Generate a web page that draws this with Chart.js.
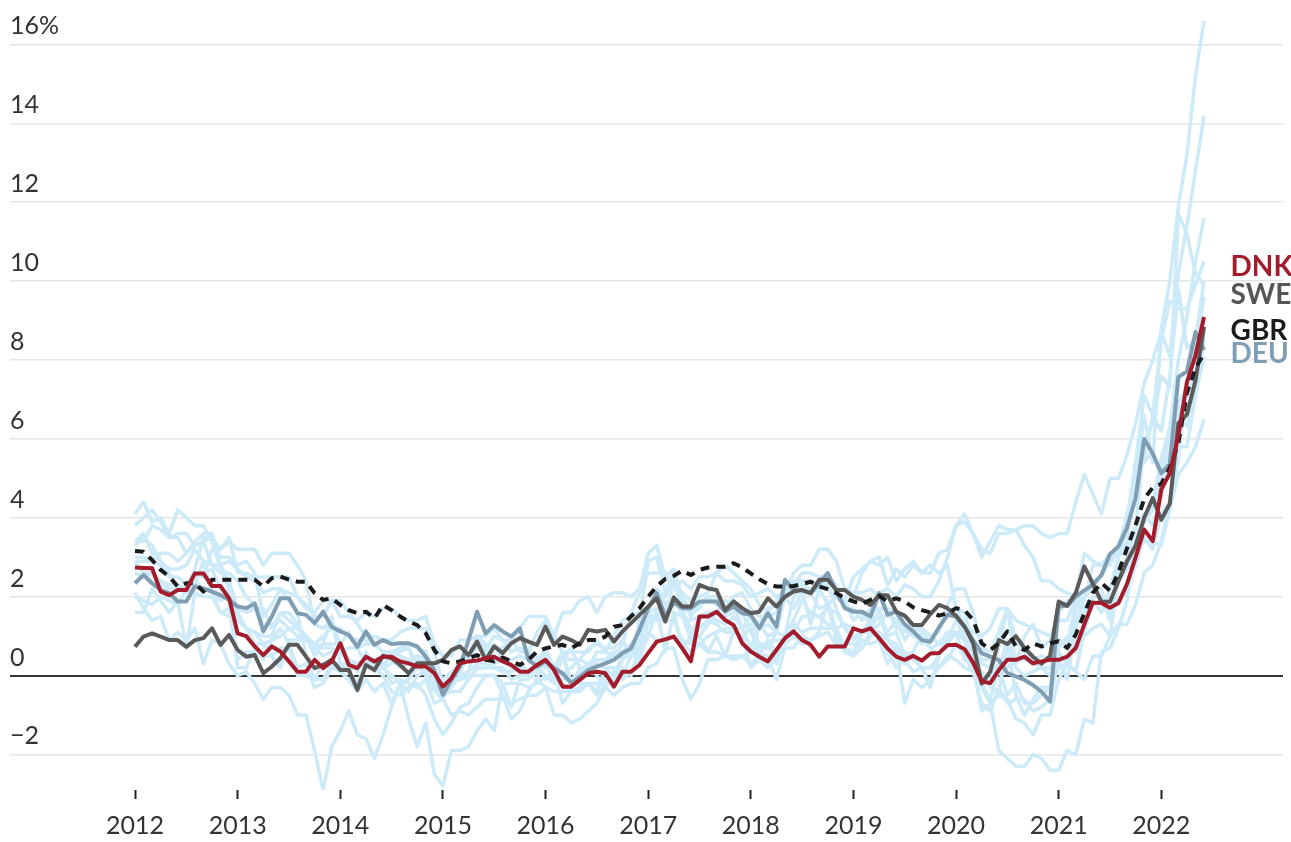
<!DOCTYPE html>
<html>
<head>
<meta charset="utf-8">
<script src="https://cdn.jsdelivr.net/npm/chart.js@4.4.1/dist/chart.umd.min.js"></script>
<style>
  html, body { margin: 0; padding: 0; background: #fff; }
  #contenedor { width: 1291px; height: 842px; position: relative; }
</style>
</head>
<body>
<div id="contenedor"><canvas id="grafico"></canvas></div>
<script>
// Inflación interanual mensual, ene 2012 - jun 2022
const anioInicio = 2012;
const ticksAnios = [2012, 2013, 2014, 2015, 2016, 2017, 2018, 2019, 2020, 2021, 2022];
const ticksY = [-2, 0, 2, 4, 6, 8, 10, 12, 14, 16];

const dnk = [
  2.74, 2.73, 2.72, 2.13, 2.04, 2.17, 2.17, 2.59, 2.59, 2.27, 2.27, 1.96,
  1.07, 1.0, 0.74, 0.52, 0.74, 0.61, 0.36, 0.1, 0.1, 0.4, 0.19, 0.36,
  0.82, 0.27, 0.19, 0.48, 0.36, 0.48, 0.48, 0.36, 0.31, 0.23, 0.23, 0.06,
  -0.28, -0.07, 0.31, 0.36, 0.38, 0.44, 0.48, 0.36, 0.27, 0.1, 0.1, 0.27,
  0.4, 0.14, -0.28, -0.28, -0.11, 0.06, 0.1, 0.06, -0.28, 0.1, 0.1, 0.27,
  0.57, 0.86, 0.92, 0.99, 0.69, 0.36, 1.5, 1.5, 1.62, 1.41, 1.28, 0.82,
  0.61, 0.48, 0.36, 0.65, 0.95, 1.12, 0.9, 0.78, 0.48, 0.74, 0.74, 0.74,
  1.2, 1.12, 1.2, 0.95, 0.69, 0.48, 0.4, 0.5, 0.38, 0.56, 0.57, 0.77,
  0.78, 0.67, 0.33, -0.15, -0.19, 0.14, 0.4, 0.4, 0.48, 0.31, 0.36, 0.4,
  0.4, 0.48, 0.7, 1.3, 1.85, 1.84, 1.72, 1.84, 2.33, 3.0, 3.7, 3.41,
  4.72, 5.13, 6.08, 7.44, 8.12, 9.09
];
const swe = [
  0.73, 0.99, 1.07, 0.99, 0.9, 0.9, 0.73, 0.9, 0.95, 1.2, 0.78, 1.03,
  0.65, 0.48, 0.52, 0.06, 0.23, 0.44, 0.78, 0.78, 0.48, 0.19, 0.27, 0.4,
  0.14, 0.14, -0.36, 0.27, 0.14, 0.5, 0.44, 0.27, 0.06, 0.31, 0.31, 0.31,
  0.4, 0.65, 0.74, 0.52, 0.86, 0.4, 0.74, 0.57, 0.82, 0.95, 0.86, 0.78,
  1.24, 0.78, 0.99, 0.9, 0.78, 1.16, 1.12, 1.16, 0.86, 1.12, 1.33, 1.54,
  1.75, 1.96, 1.37, 1.98, 1.75, 1.75, 2.3, 2.21, 2.17, 1.66, 1.88, 1.71,
  1.58, 1.62, 1.96, 1.75, 2.0, 2.13, 2.17, 2.09, 2.43, 2.43, 2.17, 2.17,
  2.0, 1.92, 1.79, 2.04, 2.04, 1.62, 1.52, 1.28, 1.28, 1.56, 1.79, 1.71,
  1.52, 1.24, 0.82, -0.2, 0.1, 0.9, 0.8, 1.0, 0.7, 0.48, 0.3, 0.5,
  1.88, 1.77, 2.1, 2.77, 2.33, 1.87, 1.87, 2.4, 2.9, 3.3, 4.0, 4.5,
  3.95, 4.36, 6.4, 6.62, 7.48, 8.84
];
const gbr = [
  3.16, 3.14, 2.93, 2.68, 2.51, 2.26, 2.34, 2.34, 2.13, 2.43, 2.43, 2.43,
  2.43, 2.43, 2.43, 2.26, 2.47, 2.51, 2.43, 2.38, 2.38, 2.09, 1.92, 1.96,
  1.79, 1.66, 1.58, 1.62, 1.45, 1.79, 1.66, 1.5, 1.37, 1.28, 1.07, 0.65,
  0.36, 0.31, 0.36, 0.44, 0.52, 0.4, 0.36, 0.46, 0.36, 0.27, 0.4, 0.61,
  0.69, 0.74, 0.78, 0.69, 0.82, 0.9, 0.9, 0.99, 1.24, 1.28, 1.5, 1.71,
  2.0, 2.26, 2.45, 2.53, 2.66, 2.55, 2.68, 2.74, 2.76, 2.76, 2.85, 2.74,
  2.59, 2.44, 2.32, 2.26, 2.26, 2.27, 2.32, 2.38, 2.26, 2.19, 2.09, 1.96,
  1.88, 1.82, 1.92, 2.02, 1.88, 1.96, 1.88, 1.73, 1.66, 1.6, 1.52, 1.58,
  1.71, 1.66, 1.41, 0.82, 0.65, 0.82, 1.12, 0.74, 0.65, 0.82, 0.74, 0.82,
  0.87, 0.7, 1.04, 1.58, 2.1, 2.35, 2.15, 2.62, 3.23, 3.82, 4.48, 4.77,
  4.86, 5.27, 5.9, 7.17, 7.8, 8.16
];
const deu = [
  2.34, 2.55, 2.34, 2.17, 2.09, 1.88, 1.88, 2.26, 2.21, 2.13, 2.04, 1.92,
  1.75, 1.71, 1.83, 1.12, 1.5, 1.96, 1.96, 1.58, 1.54, 1.33, 1.62, 1.24,
  1.12, 1.03, 0.73, 1.12, 0.78, 0.9, 0.8, 0.82, 0.82, 0.74, 0.48, 0.14,
  -0.49, -0.11, 0.23, 0.9, 1.62, 1.07, 1.28, 1.12, 0.99, 1.2, 0.4, 0.23,
  0.36, 0.19, 0.06, -0.19, -0.03, 0.14, 0.23, 0.31, 0.4, 0.57, 0.69, 1.16,
  1.71, 2.09, 1.5, 1.85, 1.71, 1.71, 1.88, 1.88, 1.88, 1.62, 1.75, 1.58,
  1.54, 1.2, 1.58, 1.24, 2.43, 2.17, 2.17, 2.09, 2.34, 2.6, 2.13, 1.71,
  1.62, 1.62, 1.5, 2.09, 1.54, 1.62, 1.3, 1.12, 0.9, 0.86, 1.22, 1.54,
  1.5, 1.24, 0.9, 0.57, 0.48, 0.4, 0.06, -0.02, -0.11, -0.24, -0.41, -0.66,
  1.75, 1.77, 2.0, 2.16, 2.3, 2.55, 3.08, 3.28, 3.75, 4.5, 6.0, 5.63,
  5.13, 5.36, 7.57, 7.71, 8.71, 8.25
];

// resto de países (líneas celestes)
const aut = [
  2.9, 2.6, 2.6, 2.3, 2.2, 2.2, 2.1, 2.3, 2.9, 2.8, 2.8, 2.9,
  2.7, 2.5, 2.4, 2.1, 2.2, 2.2, 2.1, 2.0, 1.8, 1.5, 1.5, 1.9,
  1.5, 1.5, 1.4, 1.6, 1.5, 1.7, 1.7, 1.5, 1.4, 1.4, 1.5, 0.8,
  0.5, 0.5, 0.9, 0.9, 1.0, 1.0, 1.2, 0.9, 0.6, 0.7, 0.6, 1.1,
  1.4, 1.0, 0.6, 0.6, 0.6, 0.6, 0.9, 0.6, 1.0, 1.4, 1.5, 1.6,
  1.7, 2.2, 2.0, 2.4, 2.1, 1.9, 2.0, 2.1, 2.6, 2.4, 2.4, 2.3,
  2.0, 2.1, 2.2, 2.0, 2.1, 2.3, 2.1, 2.1, 2.2, 2.5, 2.3, 1.7,
  1.7, 1.4, 1.7, 1.7, 1.7, 1.6, 1.1, 1.2, 0.8, 1.0, 1.1, 1.8,
  2.2, 2.2, 1.6, 0.7, 0.6, 1.1, 1.7, 1.4, 1.3, 1.2, 1.1, 1.0,
  1.4, 1.4, 2.0, 1.9, 2.8, 2.8, 2.8, 3.2, 3.3, 3.8, 4.1, 3.8,
  4.5, 5.5, 6.6, 7.1, 7.7, 8.7
];
const bel = [
  3.3, 3.5, 3.3, 2.9, 2.6, 2.2, 2.2, 2.6, 2.6, 2.7, 2.2, 2.1,
  1.5, 1.2, 1.1, 1.0, 1.0, 1.6, 1.6, 1.3, 1.0, 0.8, 1.0, 1.2,
  1.2, 1.0, 0.9, 0.9, 0.8, 0.6, 0.4, 0.2, 0.3, 0.3, 0.0, -0.4,
  -0.6, -0.2, 0.0, 0.1, 0.9, 0.7, 1.0, 0.9, 0.9, 1.2, 1.5, 1.5,
  1.5, 1.0, 1.6, 1.6, 1.9, 2.0, 1.6, 2.0, 2.1, 2.1, 2.0, 2.2,
  3.1, 3.3, 2.5, 2.7, 1.9, 1.5, 1.8, 2.0, 2.0, 1.7, 2.0, 2.1,
  1.7, 1.5, 1.5, 1.6, 2.1, 2.6, 2.8, 2.8, 3.2, 3.2, 2.9, 2.2,
  2.1, 2.1, 2.2, 2.0, 1.7, 1.2, 1.2, 1.0, 0.9, 0.7, 0.5, 0.9,
  1.4, 1.0, 0.6, 0.3, 0.2, 0.7, 1.7, 0.9, 0.6, 0.4, 0.5, 0.4,
  0.6, 0.3, 1.6, 2.0, 2.2, 2.2, 1.4, 3.0, 3.4, 5.4, 7.1, 6.6,
  8.5, 9.5, 9.3, 9.3, 9.9, 10.5
];
const cze = [
  3.8, 4.0, 4.2, 3.9, 3.5, 3.5, 3.1, 3.4, 3.6, 3.6, 2.8, 2.4,
  1.7, 1.6, 1.7, 1.7, 1.2, 1.6, 1.4, 1.2, 1.0, 0.5, 0.8, 1.5,
  0.3, 0.3, 0.3, 0.2, 0.4, 0.2, 0.6, 0.7, 0.8, 0.7, 0.6, 0.1,
  -0.1, 0.1, 0.1, 0.5, 0.7, 0.8, 0.4, 0.4, 0.2, 0.2, 0.1, -0.1,
  0.6, 0.2, 0.4, 0.7, 0.2, 0.2, 0.6, 0.6, 0.5, 0.8, 1.6, 2.1,
  2.6, 2.6, 2.6, 2.2, 2.4, 2.2, 2.5, 2.5, 2.6, 2.8, 2.6, 2.4,
  2.2, 1.8, 1.6, 1.9, 2.2, 2.4, 2.4, 2.4, 2.3, 2.2, 2.0, 1.9,
  2.5, 2.7, 2.9, 2.8, 3.0, 2.4, 2.7, 2.9, 2.6, 2.6, 3.1, 3.2,
  3.8, 3.9, 3.6, 3.2, 3.1, 3.6, 3.6, 3.7, 3.3, 3.0, 2.4, 2.4,
  2.2, 2.1, 2.0, 3.1, 2.9, 2.8, 3.1, 3.2, 4.1, 4.8, 6.6, 5.4,
  8.8, 10.0, 11.9, 13.2, 15.2, 16.6
];
const esp = [
  2.0, 1.9, 1.8, 2.0, 1.9, 1.8, 2.2, 2.7, 3.5, 3.5, 3.0, 3.0,
  2.8, 2.9, 2.6, 1.5, 1.8, 2.2, 1.9, 1.6, 0.5, -0.1, 0.3, 0.3,
  0.3, 0.1, -0.2, 0.3, 0.2, 0.0, -0.4, -0.5, -0.3, -0.2, -0.5, -1.1,
  -1.5, -1.2, -0.8, -0.7, -0.3, 0.0, 0.0, -0.5, -1.1, -0.9, -0.4, -0.1,
  -0.3, -1.0, -1.0, -1.2, -1.1, -0.9, -0.7, -0.3, 0.0, 0.5, 0.5, 1.4,
  2.9, 3.0, 2.1, 2.6, 2.0, 1.6, 1.7, 2.0, 1.8, 1.7, 1.8, 1.2,
  0.7, 1.2, 1.3, 1.1, 2.1, 2.3, 2.3, 2.2, 2.3, 2.3, 1.7, 1.2,
  1.0, 1.1, 1.3, 1.6, 0.9, 0.6, 0.6, 0.4, 0.2, 0.2, 0.5, 0.8,
  1.1, 0.9, 0.1, -0.7, -0.9, -0.3, -0.7, -0.6, -0.6, -0.9, -0.8, -0.6,
  0.4, -0.1, 1.2, 2.0, 2.4, 2.5, 2.9, 3.3, 4.0, 5.4, 5.5, 6.6,
  6.2, 7.6, 9.8, 8.3, 8.5, 10.0
];
const fin = [
  3.0, 3.0, 2.9, 3.1, 3.1, 2.9, 3.1, 3.3, 3.4, 3.5, 3.2, 3.5,
  2.6, 2.6, 2.5, 2.5, 2.5, 2.5, 2.5, 2.0, 1.7, 1.6, 1.9, 1.9,
  1.9, 1.6, 1.3, 1.0, 1.0, 0.9, 0.9, 1.1, 1.2, 1.2, 1.2, 0.6,
  -0.2, -0.1, -0.1, 0.0, 0.0, 0.0, 0.0, -0.2, -0.2, -0.2, -0.3, -0.2,
  0.0, 0.0, 0.0, 0.2, 0.4, 0.3, 0.4, 0.4, 0.6, 0.6, 0.8, 1.1,
  1.1, 0.9, 0.9, 1.0, 0.8, 0.6, 0.8, 0.6, 0.6, 0.5, 0.4, 0.5,
  0.6, 0.8, 0.8, 0.9, 0.9, 1.1, 1.5, 1.5, 1.5, 1.3, 1.2, 1.3,
  1.2, 1.1, 1.1, 1.3, 1.6, 1.4, 0.9, 1.2, 1.2, 1.0, 0.8, 1.1,
  1.0, 1.3, 0.9, -0.1, -0.1, 0.4, 0.2, 0.4, 0.4, 0.3, 0.2, 0.2,
  0.9, 0.8, 1.8, 2.0, 2.3, 1.9, 1.8, 1.9, 2.1, 2.8, 3.5, 3.2,
  4.1, 4.4, 5.8, 5.8, 7.1, 8.1
];
const fra = [
  2.6, 2.5, 2.6, 2.4, 2.3, 2.3, 2.2, 2.4, 2.2, 2.1, 1.6, 1.5,
  1.4, 1.2, 1.1, 0.8, 0.9, 1.0, 1.2, 1.0, 1.0, 0.7, 0.8, 0.8,
  0.8, 1.1, 0.7, 0.8, 0.8, 0.6, 0.6, 0.5, 0.4, 0.5, 0.4, 0.1,
  -0.4, -0.3, 0.0, 0.1, 0.3, 0.3, 0.2, 0.1, 0.1, 0.2, 0.1, 0.3,
  0.3, -0.1, -0.1, -0.1, 0.1, 0.3, 0.4, 0.4, 0.5, 0.5, 0.7, 0.8,
  1.6, 1.4, 1.4, 1.4, 0.9, 0.8, 0.8, 1.0, 1.1, 1.2, 1.2, 1.2,
  1.5, 1.3, 1.7, 1.8, 2.3, 2.3, 2.6, 2.6, 2.5, 2.5, 2.2, 1.9,
  1.4, 1.6, 1.3, 1.5, 1.1, 1.4, 1.3, 1.3, 1.1, 0.9, 1.2, 1.6,
  1.7, 1.6, 0.8, 0.4, 0.4, 0.2, 0.9, 0.2, 0.0, 0.1, 0.2, 0.0,
  0.8, 0.8, 1.4, 1.6, 1.8, 1.9, 1.5, 2.4, 2.7, 3.2, 3.4, 3.4,
  3.3, 4.2, 5.1, 5.4, 5.8, 6.5
];
const grc = [
  2.1, 1.7, 1.4, 1.5, 0.9, 1.1, 0.9, 1.2, 0.3, 0.9, 0.8, 0.3,
  0.0, 0.1, -0.2, -0.6, -0.3, -0.3, -0.5, -1.0, -1.0, -1.9, -2.9, -1.8,
  -1.4, -0.9, -1.5, -1.6, -2.1, -1.5, -0.8, -0.2, -1.1, -1.8, -1.2, -2.5,
  -2.8, -1.9, -1.9, -1.8, -1.4, -1.1, -1.4, -0.2, -0.8, -0.1, -0.1, 0.4,
  -0.1, 0.1, -0.7, -0.4, 0.2, 0.2, 0.3, 0.2, -0.1, 0.4, 0.6, 0.3,
  1.5, 1.4, 1.7, 1.6, 1.5, 0.9, 1.0, 0.6, 1.0, 0.5, 1.1, 1.0,
  0.2, 0.4, 0.2, 0.5, 0.8, 1.0, 0.8, 0.9, 1.1, 1.9, 1.1, 0.6,
  0.5, 0.7, 1.0, 1.1, 0.6, 0.2, 0.4, 0.1, 0.2, -0.3, 0.5, 1.1,
  1.1, 0.4, 0.2, -0.9, -0.7, -1.9, -2.1, -2.3, -2.3, -2.0, -2.1, -2.4,
  -2.4, -1.9, -2.0, -1.1, -1.2, 0.6, 0.7, 1.2, 1.9, 3.4, 4.0, 4.4,
  5.5, 6.3, 8.0, 9.1, 10.5, 11.6
];
const irl = [
  1.6, 1.6, 2.2, 1.9, 1.6, 1.9, 0.7, 2.1, 2.0, 2.0, 1.6, 1.7,
  0.4, 0.6, 0.6, 0.5, 0.5, 0.7, 0.7, 0.0, 0.0, -0.1, -0.1, 0.3,
  0.2, 0.1, 0.3, 0.4, 0.4, 0.5, 0.5, 0.6, 0.7, 0.2, 0.1, -0.3,
  -0.5, -0.4, -0.4, -0.1, 0.2, 0.2, 0.2, 0.2, -0.1, 0.0, 0.0, 0.2,
  0.0, -0.2, 0.5, -0.2, -0.1, 0.3, 0.0, -0.3, -0.5, -0.3, -0.2, -0.2,
  0.2, 0.3, 0.7, 0.7, -0.1, -0.6, -0.2, 0.4, 0.4, 0.5, 0.5, 0.5,
  0.3, 0.5, 0.5, -0.1, 0.7, 0.7, 1.0, 0.9, 1.0, 1.1, 0.8, 0.8,
  0.8, 0.7, 1.1, 1.7, 1.0, 1.1, 0.5, 0.6, 1.1, 0.7, 0.8, 1.1,
  1.1, 0.9, 0.5, -0.3, -0.7, -0.5, -0.6, -1.1, -1.2, -1.5, -1.0, -1.0,
  -0.1, 0.3, 0.1, 1.1, 1.9, 1.6, 2.2, 3.0, 3.8, 5.1, 5.4, 5.7,
  5.0, 5.7, 6.9, 7.3, 8.3, 9.6
];
const ita = [
  3.4, 3.4, 3.8, 3.7, 3.5, 3.6, 3.6, 3.3, 3.4, 2.8, 2.6, 2.6,
  2.4, 2.0, 1.8, 1.3, 1.3, 1.4, 1.2, 1.2, 0.9, 0.8, 0.7, 0.7,
  0.6, 0.4, 0.3, 0.5, 0.4, 0.2, 0.0, -0.2, -0.1, 0.2, 0.3, -0.1,
  -0.5, 0.1, 0.0, -0.1, 0.2, 0.2, 0.3, 0.4, 0.2, 0.3, 0.1, 0.1,
  0.4, -0.2, -0.2, -0.4, -0.3, -0.2, -0.2, -0.1, 0.1, -0.1, 0.1, 0.5,
  1.0, 1.6, 1.4, 2.0, 1.6, 1.2, 1.2, 1.4, 1.3, 1.1, 1.1, 1.0,
  1.2, 0.5, 0.9, 0.6, 1.0, 1.4, 1.9, 1.6, 1.5, 1.7, 1.6, 1.2,
  0.9, 1.1, 1.1, 1.1, 0.9, 0.8, 0.3, 0.5, 0.2, 0.2, 0.2, 0.5,
  0.4, 0.2, 0.1, 0.1, -0.3, -0.4, 0.8, -0.5, -1.0, -0.6, -0.3, -0.3,
  0.7, 1.0, 0.6, 1.0, 1.2, 1.3, 1.0, 2.5, 2.9, 3.2, 3.9, 4.2,
  5.1, 6.2, 6.8, 6.3, 7.3, 8.5
];
const nld = [
  2.9, 2.9, 2.9, 2.8, 2.5, 2.5, 2.3, 2.6, 2.5, 3.2, 3.2, 3.4,
  3.2, 3.2, 3.2, 2.8, 3.1, 3.1, 3.1, 2.8, 2.4, 1.3, 1.2, 1.4,
  0.8, 0.4, 0.1, 0.6, 0.1, 0.2, 0.3, 0.4, 0.3, 0.4, 0.3, 0.1,
  -0.4, 0.0, 0.4, 0.4, 1.0, 0.6, 0.8, 0.4, 0.4, 0.5, 0.4, 0.5,
  0.2, 0.2, 0.6, -0.2, -0.2, -0.2, -0.4, 0.2, 0.2, 0.0, 0.5, 0.7,
  1.6, 1.7, 0.6, 1.6, 0.7, 1.0, 1.5, 1.5, 1.4, 1.3, 1.5, 1.2,
  1.3, 1.3, 1.0, 1.1, 2.0, 1.7, 2.1, 2.1, 1.7, 1.8, 2.0, 1.8,
  2.0, 2.6, 2.9, 3.0, 2.3, 2.7, 2.5, 2.8, 2.6, 2.8, 2.6, 2.8,
  1.7, 1.3, 1.1, 1.0, 1.2, 1.7, 1.7, 0.3, 1.0, 1.3, 0.7, 0.9,
  1.6, 1.9, 1.9, 1.7, 2.0, 2.0, 1.4, 2.7, 3.0, 3.7, 5.9, 6.4,
  7.6, 7.3, 11.7, 11.2, 10.2, 9.9
];
const pol = [
  4.1, 4.4, 3.9, 4.0, 3.6, 4.2, 4.0, 3.8, 3.8, 3.4, 2.7, 2.2,
  1.6, 1.2, 0.8, 0.8, 0.5, 0.2, 0.9, 0.9, 0.9, 0.7, 0.5, 0.6,
  0.6, 0.7, 0.7, 0.3, 0.3, 0.3, -0.2, -0.1, -0.2, -0.3, -0.1, -0.7,
  -0.6, -1.0, -0.9, -1.0, -0.8, -0.6, -0.6, -0.6, -0.7, -0.6, -0.5, -0.5,
  -0.3, -0.4, -0.4, -0.4, -0.4, -0.2, -0.5, -0.2, -0.2, 0.2, 0.0, 0.8,
  1.6, 2.2, 1.8, 2.0, 1.5, 1.4, 1.5, 1.6, 1.6, 1.5, 1.6, 1.6,
  1.6, 0.7, 0.7, 1.1, 1.0, 1.3, 1.1, 1.2, 1.2, 1.2, 1.2, 0.7,
  0.6, 1.1, 1.4, 2.1, 2.2, 2.0, 2.3, 2.2, 2.0, 2.0, 2.4, 3.0,
  3.8, 4.1, 3.6, 3.0, 3.4, 3.8, 3.7, 3.7, 3.8, 3.8, 3.6, 3.5,
  3.6, 3.6, 4.4, 5.1, 4.6, 4.1, 5.0, 5.0, 5.6, 6.4, 7.4, 8.0,
  8.7, 8.1, 10.2, 11.4, 12.8, 14.2
];
const prt = [
  3.4, 3.6, 3.1, 2.9, 2.7, 2.7, 2.8, 3.2, 2.9, 2.1, 1.9, 2.1,
  0.2, 0.2, 0.7, 0.4, 0.9, 1.2, 0.8, 0.2, 0.3, -0.3, -0.2, 0.2,
  0.1, -0.1, -0.4, -0.1, -0.4, -0.2, -0.7, -0.2, -0.4, 0.0, 0.1, -0.3,
  -0.4, 0.0, 0.4, 0.5, 1.0, 0.8, 0.7, 0.7, 0.9, 0.6, 0.6, 0.3,
  0.7, 0.2, 0.5, 0.4, 0.4, 0.7, 0.8, 0.7, 0.7, 0.9, 0.5, 0.9,
  1.3, 1.6, 1.4, 2.4, 1.7, 1.0, 1.0, 1.3, 1.6, 1.9, 1.8, 1.6,
  1.1, 0.7, 0.8, 0.3, 1.0, 2.0, 2.2, 1.3, 2.2, 1.8, 0.9, 0.6,
  0.6, 0.9, 0.8, 0.9, 0.3, 0.7, -0.7, -0.1, -0.3, -0.1, 0.2, 0.4,
  0.8, 0.5, 0.1, -0.2, -0.6, 0.2, -0.5, -0.2, -0.7, -0.7, -0.5, -0.3,
  0.2, 0.3, 0.1, -0.1, 0.5, 0.5, 1.0, 1.3, 1.3, 1.8, 2.6, 2.8,
  3.4, 4.4, 5.5, 7.4, 8.1, 9.0
];

const otrosPaises = [aut, bel, cze, esp, fin, fra, grc, irl, ita, nld, pol, prt];

const etiquetasPaises = [
  { texto: 'DNK', color: '#a31c2b', valor: 10.36 },
  { texto: 'SWE', color: '#555555', valor: 9.65 },
  { texto: 'GBR', color: '#1b1b1b', valor: 8.74 },
  { texto: 'DEU', color: '#7f9db3', valor: 8.15 }
];
const xEtiquetas = 2022.675;

const aPuntos = (valores) => valores.map((v, i) => ({ x: anioInicio + i / 12, y: v }));

const lineaBase = {
  fill: false,
  tension: 0,
  pointRadius: 0,
  pointHoverRadius: 0,
  borderJoinStyle: 'round',
  borderCapStyle: 'butt'
};

const datasets = [
  { ...lineaBase, label: 'DNK', data: aPuntos(dnk), borderColor: '#a31c2b', borderWidth: 4, order: 0 },
  { ...lineaBase, label: 'GBR', data: aPuntos(gbr), borderColor: '#1b1b1b', borderWidth: 4, borderDash: [9, 7], order: 1 },
  { ...lineaBase, label: 'SWE', data: aPuntos(swe), borderColor: '#5a5a5a', borderWidth: 4, order: 2 },
  { ...lineaBase, label: 'DEU', data: aPuntos(deu), borderColor: '#7f9db3', borderWidth: 4, order: 3 },
  ...otrosPaises.map((serie, i) => ({
    ...lineaBase, label: 'otro' + i, data: aPuntos(serie), borderColor: '#cdeaf8', borderWidth: 3.5, order: 10
  }))
];

// etiquetas del eje Y (encima de la línea) y nombres de países a la derecha
const etiquetasPlugin = {
  id: 'etiquetas',
  afterDatasetsDraw(chart) {
    const { ctx, chartArea, scales: { x, y } } = chart;
    ctx.save();
    ctx.font = '25px Lato';
    ctx.fillStyle = '#333';
    ctx.textAlign = 'left';
    ctx.textBaseline = 'alphabetic';
    ticksY.forEach((v) => {
      const texto = v === 16 ? '16%' : v < 0 ? '\u2212' + Math.abs(v) : String(v);
      ctx.fillText(texto, chartArea.left, y.getPixelForValue(v) - 10);
    });
    ctx.font = 'bold 28px Lato';
    ctx.textBaseline = 'middle';
    etiquetasPaises.forEach((e) => {
      ctx.fillStyle = e.color;
      ctx.fillText(e.texto, x.getPixelForValue(xEtiquetas), y.getPixelForValue(e.valor));
    });
    ctx.restore();
  }
};

Chart.defaults.font.family = 'Lato';

new Chart(document.getElementById('grafico').getContext('2d'), {
  type: 'line',
  data: { datasets },
  options: {
    responsive: true,
    maintainAspectRatio: false,
    animation: false,
    layout: { padding: { top: 5, left: 10, right: 8, bottom: 0 } },
    plugins: { legend: { display: false }, tooltip: { enabled: false } },
    scales: {
      x: {
        type: 'linear',
        min: 2010.782,
        max: 2023.186,
        afterBuildTicks: (scale) => { scale.ticks = ticksAnios.map((v) => ({ value: v })); },
        afterFit: (scale) => { scale.height = 52; },
        border: { display: false },
        grid: { drawOnChartArea: false, drawTicks: true, tickLength: 9, tickColor: '#222', tickWidth: 2 },
        ticks: { color: '#333', font: { size: 25 }, padding: 12, maxRotation: 0, callback: (v) => String(v) }
      },
      y: {
        min: -2.9,
        max: 17,
        afterBuildTicks: (scale) => { scale.ticks = ticksY.map((v) => ({ value: v })); },
        afterFit: (scale) => { scale.width = 0; },
        border: { display: false },
        grid: {
          drawTicks: false,
          color: (c) => (c.tick && c.tick.value === 0 ? '#333' : '#e6e6e6'),
          lineWidth: (c) => (c.tick && c.tick.value === 0 ? 2 : 1.5)
        },
        ticks: { display: false }
      }
    }
  },
  plugins: [etiquetasPlugin]
});
</script>
</body>
</html>
